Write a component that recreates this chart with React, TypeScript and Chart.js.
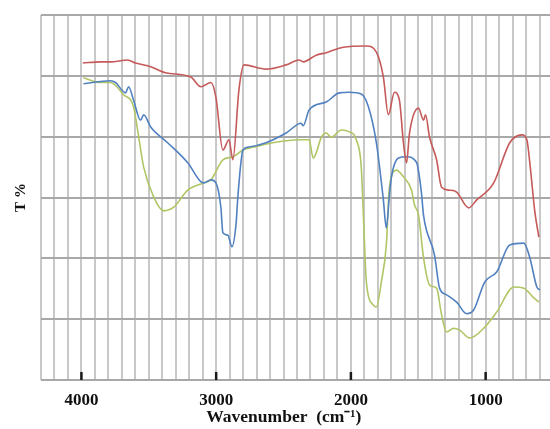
import React, { useEffect, useRef } from "react";
import { Chart, registerables } from "chart.js";

Chart.register(...registerables);

// Wavenumber (cm-1) and transmittance (T %, arbitrary units) for each spectrum
const redWavenumber = [3990, 3860, 3784, 3657, 3598, 3486, 3375, 3188, 3114, 3039, 3002, 2950, 2905, 2876, 2831, 2794, 2630, 2481, 2384, 2354, 2258, 2183, 2057, 1885, 1811, 1759, 1722, 1677, 1640, 1610, 1587, 1565, 1498, 1461, 1446, 1416, 1364, 1327, 1267, 1215, 1126, 1066, 940, 821, 731, 694, 672, 634, 605];
const redT = [52.1, 52.3, 52.3, 52.6, 52.1, 51.5, 50.5, 49.8, 48.2, 48.9, 46.5, 37.8, 39.5, 36.2, 47.7, 51.8, 51.1, 51.8, 52.6, 52.3, 53.4, 53.8, 54.7, 54.9, 53.9, 49.8, 43.6, 47.3, 46.0, 39.0, 35.7, 40.6, 44.7, 42.7, 43.6, 39.9, 36.2, 31.7, 31.2, 30.9, 28.3, 29.6, 32.4, 39.0, 40.3, 39.5, 35.7, 27.5, 23.5];

const blueWavenumber = [3985, 3784, 3747, 3672, 3650, 3613, 3561, 3538, 3486, 3360, 3211, 3114, 3092, 3039, 3002, 2965, 2950, 2913, 2883, 2853, 2838, 2801, 2757, 2630, 2481, 2369, 2354, 2310, 2183, 2086, 2012, 1923, 1870, 1811, 1759, 1737, 1714, 1699, 1647, 1587, 1513, 1476, 1461, 1379, 1342, 1290, 1215, 1141, 1089, 1007, 917, 821, 716, 672, 620, 597];
const blueT = [48.7, 49.2, 48.9, 47.2, 48.2, 46.0, 42.7, 43.6, 41.6, 39.0, 35.7, 32.6, 32.4, 32.9, 32.4, 28.4, 24.2, 23.8, 21.9, 25.5, 30.4, 37.8, 38.3, 39.0, 40.6, 42.2, 41.8, 44.4, 45.7, 47.2, 47.3, 47.0, 44.9, 39.0, 29.6, 25.0, 30.4, 33.4, 36.5, 36.7, 35.8, 30.7, 27.1, 20.5, 15.1, 14.0, 12.8, 10.9, 11.5, 16.1, 17.8, 22.2, 22.5, 20.1, 15.3, 14.8];

const greenWavenumber = [3985, 3859, 3784, 3687, 3613, 3583, 3538, 3464, 3389, 3315, 3211, 3092, 3039, 2950, 2876, 2801, 2719, 2578, 2384, 2310, 2280, 2258, 2220, 2183, 2146, 2071, 2012, 1960, 1923, 1908, 1885, 1833, 1811, 1774, 1737, 1714, 1662, 1610, 1550, 1528, 1498, 1461, 1416, 1364, 1327, 1290, 1238, 1193, 1118, 1014, 917, 790, 716, 642, 605];
const greenT = [49.7, 48.9, 48.9, 46.9, 44.9, 41.1, 35.0, 30.1, 27.8, 28.4, 31.2, 32.4, 32.9, 36.2, 36.7, 37.8, 38.3, 39.0, 39.5, 39.5, 36.5, 37.3, 39.9, 40.6, 39.9, 41.1, 40.8, 39.5, 35.0, 27.5, 16.1, 12.3, 12.0, 16.1, 22.2, 31.7, 34.5, 33.4, 31.2, 28.8, 27.1, 20.1, 15.6, 15.1, 10.7, 7.9, 8.5, 8.2, 6.9, 8.5, 11.2, 15.3, 15.1, 13.5, 12.8];

const xLabelValues = [4000, 3000, 2000, 1000];
const xMin = 500;
const xMax = 4300;
const yMin = 0;
const yMax = 60;

const toPoints = (xs: number[], ys: number[]) => xs.map((x, i) => ({ x, y: ys[i] }));

const tickMarks = {
  id: "tickMarks",
  afterDraw(chart: any) {
    const { ctx, chartArea, scales } = chart;
    ctx.save();
    ctx.strokeStyle = "#1a1a1a";
    ctx.lineWidth = 2.5;
    xLabelValues.forEach((v) => {
      const px = scales.x.getPixelForValue(v);
      ctx.beginPath();
      ctx.moveTo(px, chartArea.bottom - 8);
      ctx.lineTo(px, chartArea.bottom);
      ctx.stroke();
    });
    ctx.restore();
  },
};

const serif = "'Liberation Serif', 'Times New Roman', serif";

export default function App() {
  const ref = useRef<HTMLCanvasElement>(null);
  useEffect(() => {
    if (!ref.current) return;
    const line = (data: any[], color: string) => ({
      data,
      borderColor: color,
      backgroundColor: color,
      borderWidth: 1.6,
      pointRadius: 0,
      cubicInterpolationMode: "monotone" as const,
      fill: false,
    });
    const chart = new Chart(ref.current, {
      type: "line",
      data: {
        datasets: [
          line(toPoints(redWavenumber, redT), "#c55a5a"),
          line(toPoints(blueWavenumber, blueT), "#5181c0"),
          line(toPoints(greenWavenumber, greenT), "#b0c665"),
        ],
      },
      options: {
        animation: false,
        responsive: false,
        layout: { padding: { top: 15, right: 0, left: 0, bottom: 0 } },
        plugins: { legend: { display: false }, tooltip: { enabled: false } },
        scales: {
          x: {
            type: "linear",
            reverse: true,
            min: xMin,
            max: xMax,
            border: { display: false },
            grid: { color: "#c8c8c8", lineWidth: 2, drawTicks: false },
            ticks: {
              stepSize: 100,
              maxTicksLimit: 100,
              autoSkip: false,
              maxRotation: 0,
              padding: 10,
              color: "#111",
              font: { family: serif, size: 17, weight: "bold" },
              callback: (v: any) => (xLabelValues.includes(Number(v)) ? String(v) : ""),
            },
            title: {
              display: true,
              text: "Wavenumber  (cm⁻¹)\u00a0\u00a0\u00a0\u00a0\u00a0\u00a0",
              color: "#111",
              padding: { top: 0, bottom: 1 },
              font: { family: serif, size: 17.5, weight: "bold" },
            },
            afterFit: (s: any) => {
              s.height = 49;
            },
          },
          y: {
            min: yMin,
            max: yMax,
            border: { display: false },
            grid: { color: "#a8a8a8", lineWidth: 2, drawTicks: false },
            ticks: { display: false, stepSize: 10 },
            title: {
              display: true,
              text: "T %",
              color: "#111",
              padding: { top: 12, bottom: 0 },
              font: { family: serif, size: 15, weight: "bold" },
            },
            afterFit: (s: any) => {
              s.width = 41;
            },
          },
        },
      },
      plugins: [tickMarks],
    } as any);
    return () => chart.destroy();
  }, []);
  return (
    <div style={{ position: "fixed", left: 0, top: 0, width: 563, height: 429, background: "#fff" }}>
      <canvas ref={ref} width={563} height={429} />
    </div>
  );
}
